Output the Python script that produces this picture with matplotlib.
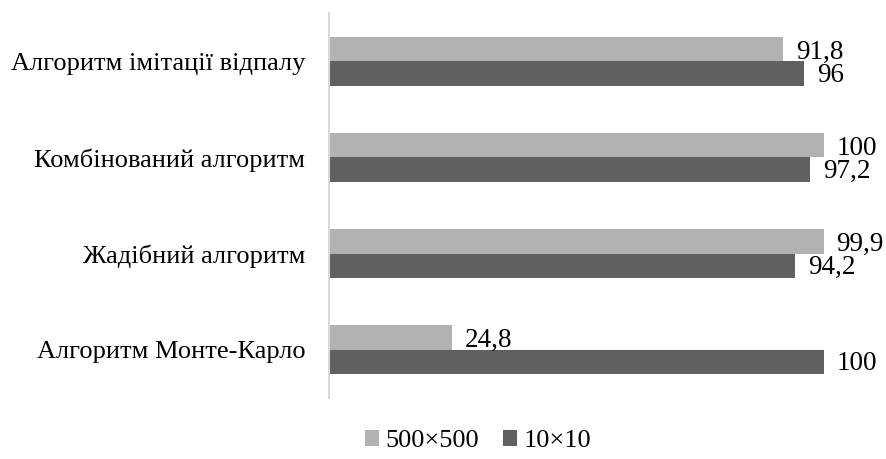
import matplotlib
matplotlib.use("Agg")
import matplotlib.pyplot as plt
import numpy as np

categories = ["Алгоритм Монте-Карло", "Жадібний алгоритм", "Комбінований алгоритм", "Алгоритм імітації відпалу"]
series_names = ["500×500", "10×10"]
vals_500 = [24.8, 99.9, 100, 91.8]
vals_10 = [100, 94.2, 97.2, 96]
labels_500 = ["24,8", "99,9", "100", "91,8"]
labels_10 = ["100", "94,2", "97,2", "96"]

plt.rcParams['font.family'] = ['Liberation Serif', 'DejaVu Serif']

W, H = 887, 459
fig = plt.figure(figsize=(W/100, H/100), dpi=100)
left, right = 329/W, 824/W
bottom, top = (H-397.7)/H, (H-13.3)/H
ax = fig.add_axes([left, bottom, right-left, top-bottom])

c_light = "#b2b2b2"
c_dark = "#606060"
h = 0.257
y = np.arange(len(categories))
b1 = ax.barh(y + h/2, vals_500, height=h, color=c_light, label=series_names[0])
b2 = ax.barh(y - h/2, vals_10, height=h, color=c_dark, label=series_names[1])

for rect, lab in zip(b1, labels_500):
    ax.annotate(lab, (rect.get_width(), rect.get_y() + rect.get_height()/2),
                xytext=(9, -2.5), textcoords="offset points", ha="left", va="center",
                fontsize=19.5, color="#000000", annotation_clip=False)
for rect, lab in zip(b2, labels_10):
    ax.annotate(lab, (rect.get_width(), rect.get_y() + rect.get_height()/2),
                xytext=(9, -1), textcoords="offset points", ha="left", va="center",
                fontsize=19.5, color="#000000", annotation_clip=False)

ax.set_xlim(0, 100)
ax.set_ylim(-0.5, len(categories) - 0.5)
ax.set_yticks(y)
ax.set_yticklabels(categories, fontsize=19)
ax.set_xticks([])
ax.tick_params(axis='y', length=0, pad=17)
for s in ["top", "right", "bottom"]:
    ax.spines[s].set_visible(False)
ax.spines["left"].set_color("#d9d9d9")
ax.spines["left"].set_linewidth(1.5)

leg = fig.legend(handles=[b1, b2], labels=series_names, loc="center",
                 bbox_to_anchor=(478/W, (H-441)/H), ncol=2, frameon=False,
                 fontsize=19, handlelength=0.55, handleheight=0.55,
                 handletextpad=0.23, columnspacing=0.9, borderpad=0.0)

fig.savefig("out.png", dpi=100)
